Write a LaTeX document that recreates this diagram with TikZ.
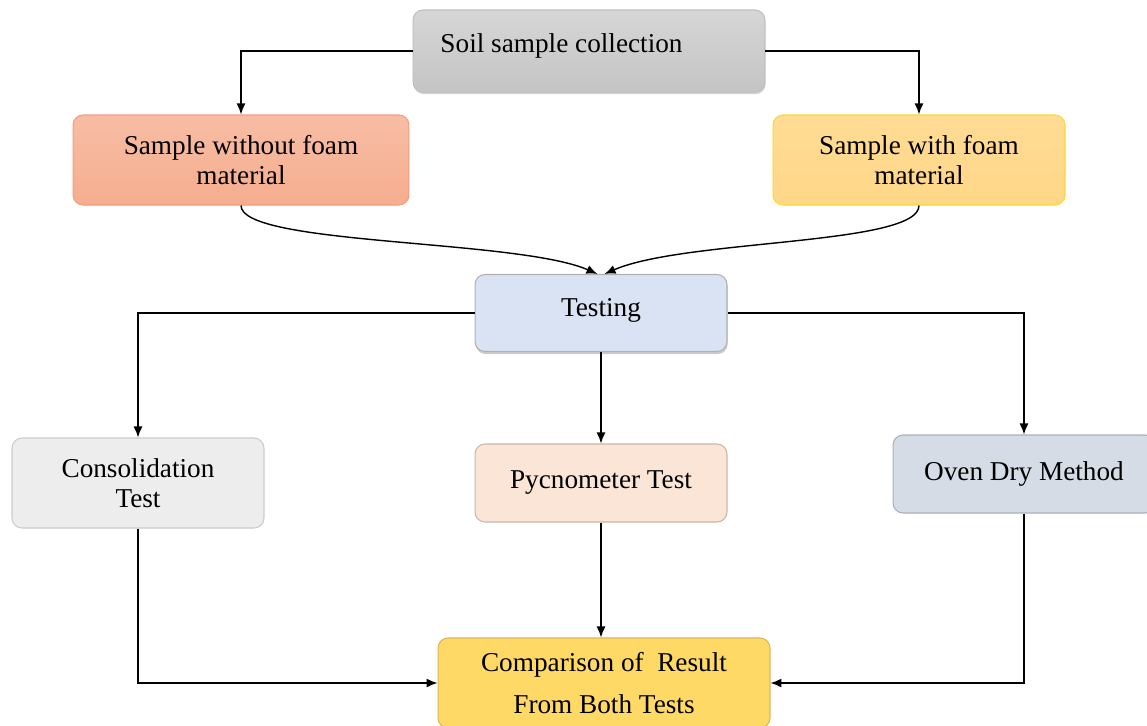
\documentclass[tikz,border=0pt]{standalone}
\usepackage{fontspec}
\setmainfont{Liberation Serif}
\usetikzlibrary{arrows.meta,shadows}

\definecolor{soilgray}{HTML}{CDCDCD}
\definecolor{salmon}{HTML}{F5AD8E}
\definecolor{lightgold}{HTML}{FFD788}
\definecolor{testblue}{HTML}{DAE3F3}
\definecolor{consgray}{HTML}{EDEDED}
\definecolor{pycnopeach}{HTML}{FBE5D6}
\definecolor{ovenblue}{HTML}{D6DCE5}
\definecolor{compgold}{HTML}{FFD966}

\begin{document}
\begin{tikzpicture}[x=0.02cm,y=-0.02cm,
    box/.style={rectangle,rounded corners=0.2cm,line width=0.6pt,align=center,
      font=\fontsize{15.5}{17}\selectfont},
    flow/.style={-{Latex[length=2.2mm,width=1.8mm]},line width=0.8pt}]
  \useasboundingbox[fill=white] (0,0) rectangle (1147,725);

  % first row
  \node[box,draw=black!25,top color=black!16,bottom color=black!23,
    drop shadow={shadow xshift=0.4pt,shadow yshift=-1.2pt,opacity=0.35},
    minimum width=7.04cm,minimum height=1.64cm] (soil) at (589,51)
    {\raisebox{0.1cm}[\height][\depth]{Soil sample collection}\hspace{1.1cm}};

  \node[box,draw=salmon!90!red,top color=salmon!80,bottom color=salmon,
    minimum width=6.72cm,minimum height=1.8cm] (without) at (241,160)
    {Sample without foam\\material};
  \node[box,draw=orange!40!yellow!80,top color=lightgold!90,bottom color=lightgold,
    minimum width=5.84cm,minimum height=1.8cm] (with) at (919,160)
    {Sample with foam\\material};

  % testing
  \node[box,draw=black!30,fill=testblue,
    drop shadow={shadow xshift=0.4pt,shadow yshift=-1.5pt,opacity=0.4},
    minimum width=5.04cm,minimum height=1.54cm] (testing) at (601,313)
    {\raisebox{0.06cm}[\height][\depth]{Testing}};

  \node[box,draw=black!20,fill=consgray,
    minimum width=5.04cm,minimum height=1.8cm] (consol) at (138,483)
    {Consolidation\\Test};
  \node[box,draw=pycnopeach!80!black,fill=pycnopeach,
    minimum width=5.04cm,minimum height=1.56cm] (pycno) at (601,483)
    {Pycnometer Test};
  \node[box,draw=ovenblue!80!black,fill=ovenblue,
    minimum width=5.24cm,minimum height=1.56cm] (oven) at (1024,474)
    {Oven Dry Method};

  \node[box,draw=compgold!85!black,fill=compgold,
    font=\fontsize{15.5}{24}\selectfont,
    minimum width=6.64cm,minimum height=1.8cm] (comp) at (604,683)
    {Comparison of \ Result\hspace{0.3cm}\\From Both Tests};

  % connectors
  \draw[flow] (soil.west) -| (without.north);
  \draw[flow] (soil.east) -| (with.north);
  \draw[flow] (without.south) .. controls +(0,40) and +(-80,-35) .. ([xshift=-2pt]testing.north);
  \draw[flow] (with.south) .. controls +(0,40) and +(80,-35) .. ([xshift=2pt]testing.north);
  \draw[flow] (testing.west) -| (consol.north);
  \draw[flow] (testing.east) -| (oven.north);
  \draw[flow] (testing) -- (pycno);
  \draw[flow] (pycno) -- (pycno |- comp.north);
  \draw[flow] (consol) |- (comp.west);
  \draw[flow] (oven) |- (comp.east);
\end{tikzpicture}
\end{document}
